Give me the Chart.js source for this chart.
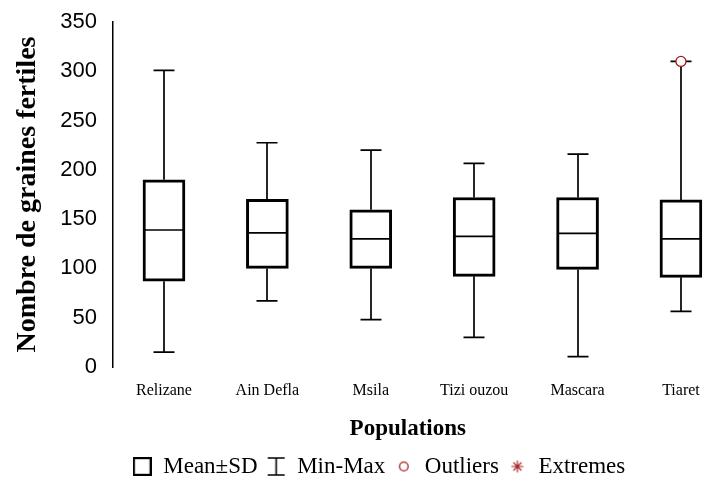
<!DOCTYPE html>
<html>
<head>
<meta charset="utf-8">
<script src="https://cdn.jsdelivr.net/npm/chart.js@4.4.0/dist/chart.umd.min.js"></script>
<style>
  html, body { margin: 0; padding: 0; background: #fff; }
</style>
</head>
<body>
<canvas id="boxChart" width="714" height="481"></canvas>
<script>
// data
const categories = ['Relizane', 'Ain Defla', 'Msila', 'Tizi ouzou', 'Mascara', 'Tiaret'];
const means  = [139, 136, 130, 132.5, 135.5, 130];
const sdLow  = [87, 100, 100, 92, 99, 91];
const sdHigh = [190, 170, 159.5, 172, 172, 169.5];
const mins   = [15, 67, 48, 30, 10.5, 56.5];
const maxs   = [301, 227.5, 220, 206.5, 216, 310];
const outlierCats   = ['Tiaret'];
const outlierValues = [310];
const yTicks = [0, 50, 100, 150, 200, 250, 300, 350];

const RED = '#a51d1d';

// little canvases used as legend symbols
function symbol(w, h, draw) {
    const c = document.createElement('canvas');
    c.width = w; c.height = h;
    const g = c.getContext('2d');
    draw(g);
    return c;
}
const boxSym = symbol(19, 19, g => {
    g.strokeStyle = '#000'; g.lineWidth = 2.2;
    g.strokeRect(1.1, 1.1, 16.8, 16.8);
});
const rangeSym = symbol(19, 19, g => {
    g.strokeStyle = '#000'; g.lineWidth = 1.6;
    g.beginPath();
    g.moveTo(1, 1); g.lineTo(18, 1);
    g.moveTo(9.5, 1); g.lineTo(9.5, 18);
    g.moveTo(1, 18); g.lineTo(18, 18);
    g.stroke();
});
const circSym = symbol(12, 12, g => {
    g.strokeStyle = RED; g.lineWidth = 1.3;
    g.beginPath(); g.arc(6, 6, 4.3, 0, Math.PI * 2); g.stroke();
});
const starSym = symbol(14, 14, g => {
    g.strokeStyle = RED; g.lineWidth = 1.1;
    g.beginPath();
    g.moveTo(7, 1); g.lineTo(7, 13);
    g.moveTo(1, 7); g.lineTo(13, 7);
    g.moveTo(3, 3); g.lineTo(11, 11);
    g.moveTo(3, 11); g.lineTo(11, 3);
    g.stroke();
});

const legendItems = [
    { text: 'Mean\u00b1SD', sym: boxSym },
    { text: 'Min-Max', sym: rangeSym },
    { text: 'Outliers', sym: circSym },
    { text: 'Extremes', sym: starSym }
];

// whiskers under the boxes, mean lines on top
const whiskers = {
    id: 'whiskers',
    beforeDatasetsDraw(chart) {
        const { ctx, scales: { x, y } } = chart;
        ctx.save();
        ctx.strokeStyle = '#000';
        ctx.lineWidth = 1.7;
        categories.forEach((c, i) => {
            const px = Math.round(x.getPixelForValue(i + 1));
            const cap = 10.5;
            const yMax = y.getPixelForValue(maxs[i]);
            const yMin = y.getPixelForValue(mins[i]);
            ctx.beginPath();
            ctx.moveTo(px, y.getPixelForValue(sdHigh[i])); ctx.lineTo(px, yMax);
            ctx.moveTo(px - cap, yMax); ctx.lineTo(px + cap, yMax);
            ctx.moveTo(px, y.getPixelForValue(sdLow[i])); ctx.lineTo(px, yMin);
            ctx.moveTo(px - cap, yMin); ctx.lineTo(px + cap, yMin);
            ctx.stroke();
        });
        ctx.restore();
    },
    afterDatasetsDraw(chart) {
        const { ctx, scales: { x, y } } = chart;
        ctx.save();
        ctx.strokeStyle = '#000';
        ctx.lineWidth = 1.7;
        categories.forEach((c, i) => {
            const px = Math.round(x.getPixelForValue(i + 1));
            const py = y.getPixelForValue(means[i]);
            ctx.beginPath();
            ctx.moveTo(px - 19.5, py); ctx.lineTo(px + 19.5, py);
            ctx.stroke();
        });
        ctx.restore();
    }
};

const ctx = document.getElementById('boxChart').getContext('2d');

new Chart(ctx, {
    type: 'bar',
    data: {
        datasets: [{
            label: 'Mean\u00b1SD',
            data: categories.map((c, i) => ({ x: i + 1, y: [sdLow[i], sdHigh[i]] })),
            backgroundColor: '#fff',
            borderColor: '#000',
            borderWidth: 3,
            borderSkipped: false,
            barThickness: 42,
            order: 2
        }, {
            type: 'scatter',
            label: 'Outliers',
            data: outlierCats.map((c, i) => ({ x: categories.indexOf(c) + 1, y: outlierValues[i] })),
            pointStyle: 'circle',
            pointRadius: 5,
            backgroundColor: '#fff',
            borderColor: RED,
            borderWidth: 1.3,
            order: 1
        }]
    },
    options: {
        responsive: false,
        animation: false,
        layout: { padding: { top: 22, left: 44, right: 0, bottom: -7 } },
        scales: {
            x: {
                type: 'linear',
                min: 0.507,
                max: 6.209,
                offset: false,
                grid: { display: false, drawTicks: false },
                border: { display: false },
                afterBuildTicks: scale => {
                    scale.ticks = categories.map((c, i) => ({ value: i + 1 }));
                },
                afterFit: scale => { scale.height = 79; },
                ticks: {
                    autoSkip: false,
                    maxRotation: 0,
                    padding: 14,
                    color: '#000',
                    font: { family: 'Liberation Serif', size: 16 },
                    callback: v => categories[v - 1] || ''
                },
                title: {
                    display: true,
                    text: 'Populations',
                    color: '#000',
                    font: { family: 'Liberation Serif', size: 23, weight: 'bold' },
                    padding: { top: 0, bottom: 3 }
                }
            },
            y: {
                min: 0,
                max: 350,
                grid: { display: false, drawTicks: false },
                border: { display: true, color: '#000', width: 1.5 },
                afterBuildTicks: scale => {
                    scale.ticks = yTicks.map(v => ({ value: v }));
                },
                afterFit: scale => {
                    scale.width = 69;
                    scale.paddingTop = 0;
                    scale.paddingBottom = 0;
                },
                ticks: {
                    padding: 16,
                    color: '#000',
                    font: { family: 'Liberation Sans', size: 22 }
                },
                title: {
                    display: true,
                    text: 'Nombre de graines fertiles',
                    color: '#000',
                    font: { family: 'Liberation Serif', size: 28, weight: 'bold' },
                    padding: { top: -33, bottom: 0 }
                }
            }
        },
        plugins: {
            tooltip: { enabled: false },
            legend: {
                position: 'bottom',
                onClick: null,
                labels: {
                    usePointStyle: true,
                    boxWidth: 19,
                    boxHeight: 19,
                    padding: 9,
                    color: '#000',
                    font: { family: 'Liberation Serif', size: 23 },
                    generateLabels: () => legendItems.map(it => ({
                        text: it.text,
                        pointStyle: it.sym,
                        fillStyle: '#fff',
                        strokeStyle: '#000',
                        lineWidth: 0,
                        hidden: false,
                        fontColor: '#000'
                    }))
                }
            }
        }
    },
    plugins: [whiskers]
});
</script>
</body>
</html>
